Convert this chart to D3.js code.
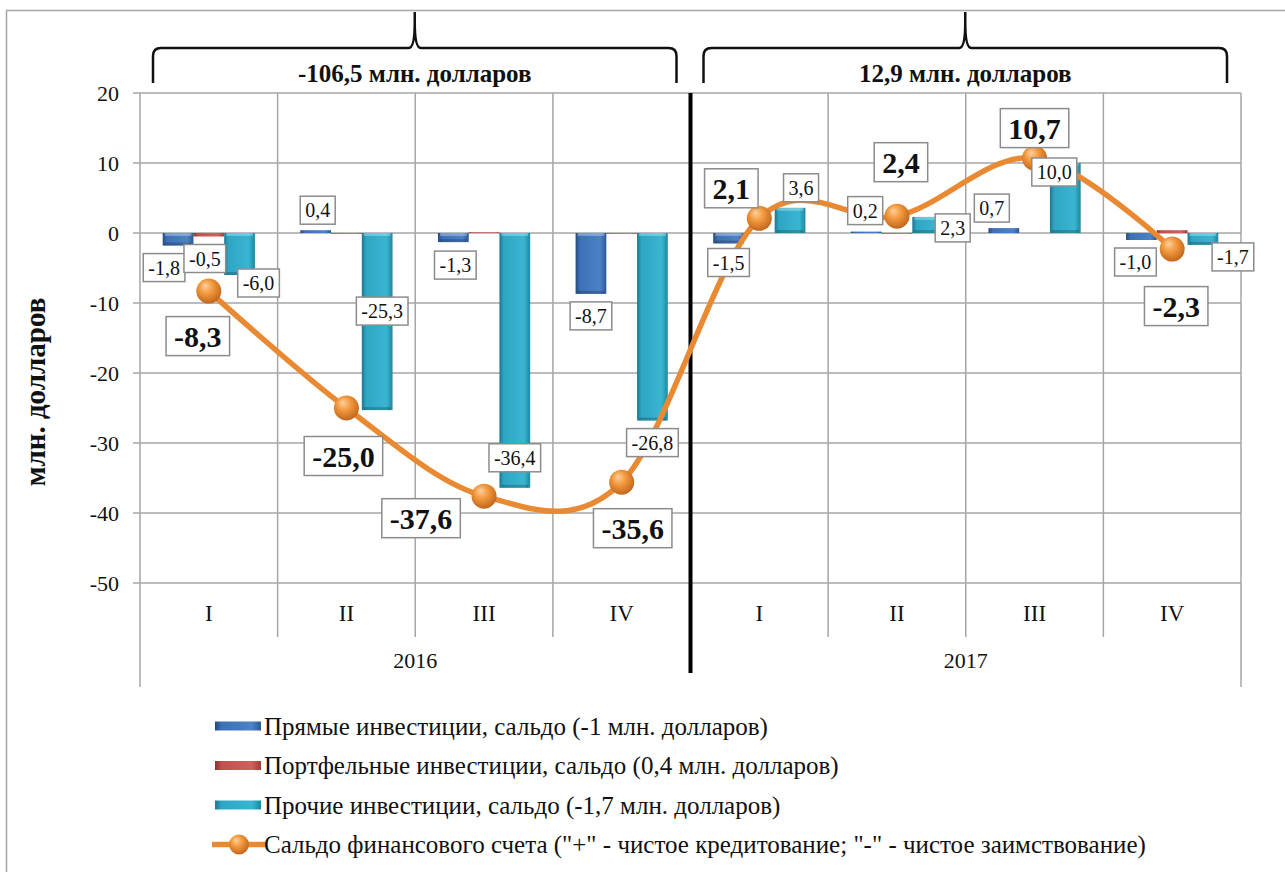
<!DOCTYPE html>
<html>
<head>
<meta charset="utf-8">
<script src="https://d3js.org/d3.v7.min.js"></script>
<style>
  body { margin: 0; background: #fff; }
</style>
</head>
<body>
<div id="chart"></div>
<script>
// Values (млн. долларов)
var years     = ["2016", "2017"];
var quarters  = ["I", "II", "III", "IV"];
var direct    = [-1.8, 0.4, -1.3, -8.7, -1.5, 0.2, 0.7, -1.0];
var portfolio = [-0.5, -0.1, 0.1, -0.1, 0.0, -0.1, 0.0, 0.4];
var other     = [-6.0, -25.3, -36.4, -26.8, 3.6, 2.3, 10.0, -1.7];
var balance   = [-8.3, -25.0, -37.6, -35.6, 2.1, 2.4, 10.7, -2.3];
var yearTotals = ["-106,5 млн. долларов", "12,9 млн. долларов"];
var yTicks     = [20, 10, 0, -10, -20, -30, -40, -50];
var legendLabels = [
  "Прямые инвестиции, сальдо (-1 млн. долларов)",
  "Портфельные инвестиции, сальдо (0,4 млн. долларов)",
  "Прочие инвестиции, сальдо (-1,7 млн. долларов)",
  "Сальдо финансового счета (\"+\"  - чистое кредитование; \"-\" - чистое заимствование)"
];

// Label nudges in px from the bar end / marker (as placed by hand in the original)
var directShift    = [[-14,22],[2,-20],[2,23],[0,22],[0,19],[-1,-21],[-12,-20],[-6,22]];
var portfolioShift = [[-4,22],null,null,null,null,null,null,null];
var otherShift     = [[19,8],[5,-99],[0,-30],[0,22],[11,-20],[25,11],[-11,9],[30,12]];
var balanceShift   = [[-11,45],[-3,48],[-63,22],[11,46],[-28,-30],[4,-54],[0,-30],[4,57]];

var FONT   = "'Liberation Serif'",
    width  = 1285,
    height = 872,
    plot   = {left: 140, right: 1241, top: 93, bottom: 583};

var svg = d3.select("#chart")
  .append("svg")
    .attr("width", width)
    .attr("height", height);

var defs = svg.append("defs");

// Period keys: 2016-I ... 2017-IV
var periods = [];
years.forEach(function(yr){
  quarters.forEach(function(q){ periods.push(yr + "-" + q); });
});

var x0 = d3.scaleBand().domain(periods).range([plot.left, plot.right]);
var bw = x0.bandwidth();
var x1 = d3.scaleBand().domain(["direct", "portfolio", "other"])
  .range([bw * 0.165, bw * 0.835]);
var xYear = d3.scaleBand().domain(years).range([plot.left, plot.right]);
var y = d3.scaleLinear().domain([-50, 20]).range([plot.bottom, plot.top]);

// Outer chart border
svg.append("rect")
  .attr("x", 6.5).attr("y", 10.5)
  .attr("width", 1300).attr("height", 900)
  .style("fill", "none")
  .style("stroke", "#a6a6a6")
  .style("stroke-width", 1.5);

// Bar gradients (bevel look)
var barColors = {
  direct:    ["#234a80", "#3d70b4", "#4d82c6", "#2a5894"],
  portfolio: ["#8c2f2c", "#c0504d", "#d0625e", "#9e3b38"],
  other:     ["#1a7791", "#2ea6c4", "#39b5d2", "#1f879f"]
};
Object.keys(barColors).forEach(function(k){
  var c = barColors[k];
  var g = defs.append("linearGradient").attr("id", "grad-" + k)
    .attr("x1", "0%").attr("x2", "100%").attr("y1", "0%").attr("y2", "0%");
  g.append("stop").attr("offset", "0%").attr("stop-color", c[0]);
  g.append("stop").attr("offset", "14%").attr("stop-color", c[1]);
  g.append("stop").attr("offset", "80%").attr("stop-color", c[2]);
  g.append("stop").attr("offset", "100%").attr("stop-color", c[3]);
});
var ball = defs.append("radialGradient").attr("id", "ball")
  .attr("cx", "45%").attr("cy", "40%").attr("r", "60%")
  .attr("fx", "35%").attr("fy", "28%");
ball.append("stop").attr("offset", "0%").attr("stop-color", "#fcd0a0");
ball.append("stop").attr("offset", "45%").attr("stop-color", "#f39a3e");
ball.append("stop").attr("offset", "100%").attr("stop-color", "#c2661c");

// Text helper: every label goes through here so the serif face is set on it
function addText(sel, size, bold){
  return sel.append("text")
    .style("font-family", FONT)
    .style("font-size", size + "px")
    .style("font-weight", bold ? "bold" : "normal")
    .style("fill", "#111");
}

// Horizontal gridlines
svg.append("g").selectAll("line")
  .data(yTicks)
  .enter().append("line")
    .attr("x1", plot.left - 7).attr("x2", plot.right)
    .attr("y1", function(d){ return y(d); })
    .attr("y2", function(d){ return y(d); })
    .style("stroke", "#a6a6a6")
    .style("stroke-width", 1.5);

// Vertical quarter dividers (continue below the axis as category ticks)
svg.append("g").selectAll("line")
  .data(periods.slice(1))
  .enter().append("line")
    .attr("x1", function(d){ return x0(d); })
    .attr("x2", function(d){ return x0(d); })
    .attr("y1", plot.top).attr("y2", plot.bottom + 54)
    .style("stroke", "#a6a6a6")
    .style("stroke-width", 1.5);

// Outer left / right lines down to the year row
[plot.left, plot.right].forEach(function(xx){
  svg.append("line")
    .attr("x1", xx).attr("x2", xx)
    .attr("y1", plot.top).attr("y2", plot.bottom + 104)
    .style("stroke", "#a6a6a6")
    .style("stroke-width", 1.5);
});

// Y tick labels
var tickG = svg.append("g");
yTicks.forEach(function(d){
  addText(tickG, 22, false)
    .attr("x", 119).attr("y", y(d))
    .attr("dy", "0.35em")
    .attr("text-anchor", "end")
    .text(d);
});

// Y axis title
addText(svg, 29, true)
  .attr("transform", "translate(45,392) rotate(-90)")
  .attr("text-anchor", "middle")
  .text("млн. долларов");

// Category labels
var catG = svg.append("g");
periods.forEach(function(d){
  addText(catG, 23, false)
    .attr("x", x0(d) + bw / 2).attr("y", plot.bottom + 30)
    .attr("dy", "0.35em")
    .attr("text-anchor", "middle")
    .text(d.split("-")[1]);
});
years.forEach(function(d){
  addText(catG, 22, false)
    .attr("x", xYear(d) + xYear.bandwidth() / 2).attr("y", plot.bottom + 77)
    .attr("dy", "0.35em")
    .attr("text-anchor", "middle")
    .text(d);
});

// Bars
var series = [
  {key: "direct", values: direct},
  {key: "portfolio", values: portfolio},
  {key: "other", values: other}
];
var bars = svg.append("g");
series.forEach(function(s){
  var g = bars.append("g");
  var tall = s.values.map(function(d, i){ return {v: d, i: i}; })
    .filter(function(d){ return Math.abs(y(d.v) - y(0)) > 8; });
  g.selectAll("rect.bar")
    .data(s.values)
    .enter().append("rect")
      .attr("class", "bar")
      .attr("x", function(d, i){ return x0(periods[i]) + x1(s.key); })
      .attr("y", function(d){ return y(Math.max(0, d)); })
      .attr("width", x1.bandwidth())
      .attr("height", function(d){ return Math.abs(y(d) - y(0)); })
      .style("fill", "url(#grad-" + s.key + ")");
  // light band at the top, darker band at the bottom of tall bars
  g.selectAll("rect.top")
    .data(tall)
    .enter().append("rect")
      .attr("class", "top")
      .attr("x", function(d){ return x0(periods[d.i]) + x1(s.key) + 2; })
      .attr("y", function(d){ return y(Math.max(0, d.v)); })
      .attr("width", x1.bandwidth() - 4)
      .attr("height", 3)
      .style("fill", "#fff")
      .style("opacity", 0.3);
  g.selectAll("rect.bottom")
    .data(tall)
    .enter().append("rect")
      .attr("class", "bottom")
      .attr("x", function(d){ return x0(periods[d.i]) + x1(s.key) + 2; })
      .attr("y", function(d){ return y(Math.min(0, d.v)) - 3; })
      .attr("width", x1.bandwidth() - 4)
      .attr("height", 3)
      .style("fill", "#000")
      .style("opacity", 0.2);
});

// Thick separator between years
svg.append("line")
  .attr("x1", xYear("2017")).attr("x2", xYear("2017"))
  .attr("y1", plot.top).attr("y2", plot.bottom + 90)
  .style("stroke", "#000")
  .style("stroke-width", 4);

// Balance line (smoothed) and markers
var cx = function(i){ return x0(periods[i]) + bw / 2; };
var line = d3.line()
  .x(function(d, i){ return cx(i); })
  .y(function(d){ return y(d); })
  .curve(d3.curveCardinal.tension(0));

svg.append("path")
  .datum(balance)
  .attr("d", line)
  .style("fill", "none")
  .style("stroke", "#e98a33")
  .style("stroke-width", 5.5);

svg.append("g").selectAll("circle")
  .data(balance)
  .enter().append("circle")
    .attr("cx", function(d, i){ return cx(i); })
    .attr("cy", function(d){ return y(d); })
    .attr("r", 12.5)
    .style("fill", "url(#ball)");

// Boxed labels
function boxLabel(layer, px, py, txt, size, bold, padX, padY){
  var g = layer.append("g");
  var rect = g.append("rect");
  var t = addText(g, size, bold)
    .attr("x", px).attr("y", py)
    .attr("dy", "0.35em")
    .attr("text-anchor", "middle")
    .text(txt);
  var bb = t.node().getBBox();
  rect.attr("x", bb.x - padX).attr("y", py - bb.height / 2 - padY)
    .attr("width", bb.width + padX * 2)
    .attr("height", bb.height + padY * 2)
    .style("fill", "#fff")
    .style("stroke", "#8c8c8c")
    .style("stroke-width", 1.5);
}
var fmt = function(v){ return d3.format(".1f")(v).replace(".", ",").replace("−", "-"); };

var labels = svg.append("g");
[[direct, directShift, "direct"], [portfolio, portfolioShift, "portfolio"], [other, otherShift, "other"]]
  .forEach(function(s){
    s[0].forEach(function(v, i){
      if (!s[1][i]) return;
      var bx = x0(periods[i]) + x1(s[2]) + x1.bandwidth() / 2;
      boxLabel(labels, bx + s[1][i][0], y(v) + s[1][i][1], fmt(v), 20, false, 5, 3);
    });
  });
balance.forEach(function(v, i){
  boxLabel(labels, cx(i) + balanceShift[i][0], y(v) + balanceShift[i][1], fmt(v), 30, true, 8, 3);
});

// Braces with yearly totals
years.forEach(function(yr, k){
  var a = xYear(yr) + 13,
      b = xYear(yr) + xYear.bandwidth() - 14,
      m = (a + b) / 2,
      top = 12, mid = 48, bot = 83;
  var p = d3.path();
  p.moveTo(a, bot);
  p.lineTo(a, mid + 8);
  p.quadraticCurveTo(a, mid, a + 8, mid);
  p.lineTo(m - 6, mid);
  p.quadraticCurveTo(m, mid, m, top + 10);
  p.lineTo(m, top);
  p.moveTo(m, top + 10);
  p.quadraticCurveTo(m, mid, m + 6, mid);
  p.lineTo(b - 8, mid);
  p.quadraticCurveTo(b, mid, b, mid + 8);
  p.lineTo(b, bot);
  svg.append("path")
    .attr("d", p.toString())
    .style("fill", "none")
    .style("stroke", "#111")
    .style("stroke-width", 2.5);
  addText(svg, 25, true)
    .attr("x", m).attr("y", 73)
    .attr("dy", "0.35em")
    .attr("text-anchor", "middle")
    .text(yearTotals[k]);
});

// Legend
var legend = svg.append("g");
legendLabels.forEach(function(txt, i){
  var ly = 726 + i * 39.5;
  if (i < 3) {
    legend.append("rect")
      .attr("x", 215).attr("y", ly - 4.5)
      .attr("width", 46).attr("height", 9)
      .style("fill", "url(#grad-" + series[i].key + ")");
  } else {
    legend.append("line")
      .attr("x1", 212).attr("x2", 266)
      .attr("y1", ly).attr("y2", ly)
      .style("stroke", "#e98a33")
      .style("stroke-width", 5.5);
    legend.append("circle")
      .attr("cx", 239).attr("cy", ly).attr("r", 10)
      .style("fill", "url(#ball)");
  }
  addText(legend, 25, false)
    .attr("x", 264).attr("y", ly)
    .attr("dy", "0.35em")
    .text(txt);
});
</script>
</body>
</html>
